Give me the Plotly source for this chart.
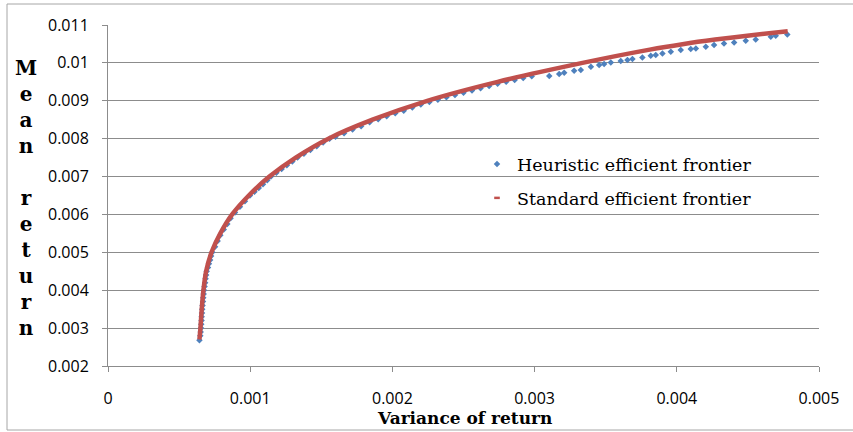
import plotly.graph_objects as go

# ---------------- data ----------------
standard_variance = [0.000643, 0.000650, 0.000659, 0.000671, 0.000690, 0.000728, 0.000790,
                     0.000873, 0.000990, 0.001135, 0.001320, 0.001550, 0.001860, 0.002245,
                     0.002740, 0.003337, 0.003810, 0.004040, 0.004270, 0.004510, 0.004780]
standard_mean = [0.00270, 0.00300, 0.00350, 0.00400, 0.00450, 0.00500, 0.00550,
                 0.00600, 0.00650, 0.00700, 0.00750, 0.00800, 0.00850, 0.00900,
                 0.00950, 0.01000, 0.01035, 0.010493, 0.010615, 0.010725, 0.010836]

heuristic_variance = [
    0.000643, 0.000649, 0.000652, 0.000654, 0.000656, 0.000658, 0.000659, 0.000661, 0.000663,
    0.000665, 0.000668, 0.000670, 0.000673, 0.000675,
    0.000679, 0.000683, 0.000686, 0.000690, 0.000694,
    0.000703, 0.000710, 0.000718, 0.000725, 0.000733,
    0.000753, 0.000771, 0.000790, 0.000814, 0.000839, 0.000862,
    0.000893, 0.000928, 0.000963, 0.000998,
    0.001030, 0.001060, 0.001090, 0.001120, 0.001146, 0.001184, 0.001221, 0.001258, 0.001296,
    0.001333, 0.001378, 0.001423, 0.001468, 0.001513, 0.001558,
    0.001600, 0.001660, 0.001720, 0.001780, 0.001840, 0.001900, 0.001960, 0.002020, 0.002080,
    0.002140, 0.002200, 0.002260, 0.002320, 0.002380, 0.002440, 0.002500, 0.002560, 0.002620,
    0.002680, 0.002740, 0.002800, 0.002860, 0.002920, 0.002980,
    0.003103, 0.003173, 0.003208, 0.003278, 0.003325, 0.003396, 0.003454, 0.003489, 0.003536,
    0.003606, 0.003653, 0.003688, 0.003758, 0.003817, 0.003852, 0.003899, 0.003958, 0.004028,
    0.004098, 0.004134, 0.004204, 0.004262, 0.004332, 0.004403, 0.004485, 0.004555, 0.004661,
    0.004696, 0.004777]
heuristic_mean = [
    0.00268, 0.00280, 0.00290, 0.00300, 0.00310, 0.00320, 0.00330, 0.00340, 0.00350,
    0.00360, 0.00370, 0.00380, 0.00390, 0.00400,
    0.00410, 0.00420, 0.00430, 0.00440, 0.00450,
    0.00460, 0.00470, 0.00480, 0.00490, 0.00500,
    0.00515, 0.00530, 0.00545, 0.00560, 0.00575, 0.00590,
    0.00605, 0.00620, 0.00635, 0.00650,
    0.00660, 0.00670, 0.00680, 0.00690, 0.00700, 0.00710, 0.00720, 0.00730, 0.00740,
    0.00750, 0.00760, 0.00770, 0.00780, 0.00790, 0.00800,
    0.00805, 0.00814, 0.00824, 0.00833, 0.00843, 0.00851, 0.00859, 0.00867, 0.00874,
    0.00882, 0.00890, 0.00897, 0.00903, 0.00909, 0.00915, 0.00921, 0.00927, 0.00933,
    0.00939, 0.00945, 0.00950, 0.00955, 0.00960, 0.00965,
    0.009652, 0.009704, 0.009739, 0.009792, 0.009810, 0.009897, 0.009942, 0.009968, 0.010013,
    0.010047, 0.010074, 0.010100, 0.010145, 0.010187, 0.010206, 0.010250, 0.010293, 0.010338,
    0.010364, 0.010382, 0.010425, 0.010470, 0.010514, 0.010541, 0.010583, 0.010620, 0.010689,
    0.010715, 0.010752]

x_tick_values = [0, 0.001, 0.002, 0.003, 0.004, 0.005]
x_tick_labels = ["0", "0.001", "0.002", "0.003", "0.004", "0.005"]
y_tick_values = [0.002, 0.003, 0.004, 0.005, 0.006, 0.007, 0.008, 0.009, 0.010, 0.011]
y_tick_labels = ["0.002", "0.003", "0.004", "0.005", "0.006", "0.007", "0.008", "0.009", "0.01", "0.011"]

series_names = ["Heuristic efficient frontier", "Standard efficient frontier"]
x_title = "Variance of return"
y_title_letters = ["M", "e", "a", "n", "", "r", "e", "t", "u", "r", "n"]

# ---------------- styling ----------------
BLUE = "#4F81BD"
RED = "#C0504D"
GRID = "#8C8C8C"
W, H = 853, 432
L, R, T, B = 108, 34, 25, 66
PW, PH = W - L - R, H - T - B


def px_x(p):
    return (p - L) / PW


def px_y(p):
    return (H - B - p) / PH


fig = go.Figure()

fig.add_trace(go.Scatter(
    x=heuristic_variance, y=heuristic_mean, mode="markers",
    name=series_names[0], legend="legend",
    marker=dict(symbol="diamond", size=5, color=BLUE),
))
fig.add_trace(go.Scatter(
    x=standard_variance, y=standard_mean, mode="lines",
    line=dict(color=RED, width=4.5, shape="spline", smoothing=0.8),
    showlegend=False, hoverinfo="skip",
))
fig.add_trace(go.Scatter(
    x=[None], y=[None], mode="markers", name=series_names[1], legend="legend2",
    marker=dict(symbol="line-ew", size=4, color=RED, line=dict(width=2.5, color=RED)),
))

legend_font = dict(family="DejaVu Serif", size=17.5, color="#000000")

fig.update_layout(
    width=W, height=H, autosize=False,
    margin=dict(l=L, r=R, t=T, b=B, pad=0),
    paper_bgcolor="white", plot_bgcolor="white",
    font=dict(family="Open Sans", size=16, color="#000000"),
    legend=dict(x=px_x(477), y=px_y(164), xanchor="left", yanchor="middle",
                bgcolor="rgba(0,0,0,0)", font=legend_font),
    legend2=dict(x=px_x(477), y=px_y(198), xanchor="left", yanchor="middle",
                 bgcolor="rgba(0,0,0,0)", font=legend_font),
    xaxis=dict(
        range=[0, 0.005], tickvals=x_tick_values, ticktext=x_tick_labels,
        showgrid=False, zeroline=False, showline=True, linecolor=GRID, linewidth=1,
        ticks="outside", ticklen=5, tickcolor=GRID, ticklabelstandoff=13,
        tickfont=dict(family="Open Sans", size=16, color="#000000"),
    ),
    yaxis=dict(
        range=[0.002, 0.011], tickvals=y_tick_values, ticktext=y_tick_labels,
        showgrid=True, gridcolor=GRID, gridwidth=1, zeroline=False,
        showline=True, linecolor=GRID, linewidth=1,
        ticks="outside", ticklen=5, tickcolor=GRID, ticklabelstandoff=10,
        tickfont=dict(family="Open Sans", size=16, color="#000000"),
    ),
    showlegend=True,
)

# outer chart frame (left, top, bottom edges visible)
fig.add_shape(type="rect", xref="paper", yref="paper",
              x0=px_x(7), x1=px_x(860), y0=px_y(430), y1=px_y(4),
              line=dict(color="#A6A6A6", width=1), fillcolor="rgba(0,0,0,0)", layer="below")

# x-axis title
fig.add_annotation(text=x_title, xref="paper", yref="paper",
                   x=px_x(464), y=px_y(418), xanchor="center", yanchor="middle",
                   showarrow=False,
                   font=dict(family="DejaVu Serif", size=17, color="#000000", weight="bold"))

# y-axis title: stacked letters
fig.add_annotation(text="<br>".join(y_title_letters), xref="paper", yref="paper",
                   x=px_x(26), y=px_y(198), xanchor="center", yanchor="middle",
                   showarrow=False, align="center",
                   font=dict(family="DejaVu Serif", size=20, color="#000000", weight="bold"))

fig.write_html("out.html")
